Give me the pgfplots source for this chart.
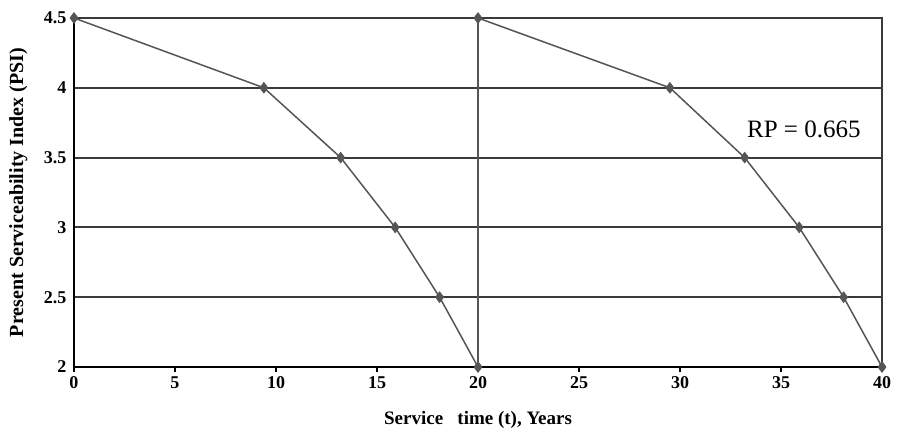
\documentclass[border=0pt]{standalone}
\usepackage{fontspec}
\setmainfont{Liberation Serif}
\usepackage{pgfplots}
\pgfplotsset{compat=1.18}
\definecolor{linec}{HTML}{555555}
\definecolor{gridc}{HTML}{3A3A3A}
\begin{document}
\begin{tikzpicture}
\begin{axis}[
  name=ax,
  scale only axis,
  width=808pt, height=349pt,
  xmin=0, xmax=40, ymin=2, ymax=4.5,
  xtick={0,5,...,40},
  ytick={2,2.5,...,4.5},
  yticklabel style={/pgf/number format/fixed},
  /pgf/number format/assume math mode=true,
  ymajorgrids,
  grid style={gridc, line width=2pt},
  axis line style={draw=none},
  tick style={black, line width=1.2pt},
  xtick pos=bottom, xtick align=outside, ytick style={draw=none},
  major tick length=5pt,
  ticklabel style={font=\fontsize{18}{19}\selectfont\bfseries},
  xticklabel style={yshift=-1pt},
  yticklabel style={xshift=-4pt},
  xlabel={Service\ \ \ time (t), Years},
  ylabel={Present Serviceability Index (PSI)},
  label style={font=\fontsize{19}{21}\selectfont\bfseries},
  xlabel style={at={(axis description cs:0.5,0)}, anchor=center, yshift=-53pt},
  ylabel style={at={(axis description cs:-0.069,0.5)}, anchor=center, font=\fontsize{20}{22}\selectfont\bfseries},
  clip=false,
]
\addplot[linec, line width=1.5pt, mark=diamond*, mark size=5.5pt,
  mark options={fill=linec, draw=linec, line width=0.5pt}] coordinates {
  (0,4.5) (9.4,4) (13.2,3.5) (15.9,3) (18.1,2.5) (20,2)
};
\addplot[linec, line width=1.5pt, mark=diamond*, mark size=5.5pt,
  mark options={fill=linec, draw=linec, line width=0.5pt}] coordinates {
  (20,4.5) (29.5,4) (33.2,3.5) (35.9,3) (38.1,2.5) (40,2)
};
\addplot[linec, line width=1.5pt] coordinates {(20,2) (20,4.5)};
\draw[black, line width=2pt] (rel axis cs:0,1) -- (rel axis cs:0,0) -- (rel axis cs:1,0);
\draw[gridc, line width=1.6pt] (rel axis cs:0,1) -- (rel axis cs:1,1) -- (rel axis cs:1,0);
\node[font=\fontsize{25}{28}\selectfont, anchor=west] at (axis cs:33.15,3.7) {RP = 0.665};
\end{axis}
\path ([xshift=-74pt,yshift=-72pt]ax.south west) rectangle ([xshift=16pt,yshift=18pt]ax.north east);
\end{tikzpicture}
\end{document}
